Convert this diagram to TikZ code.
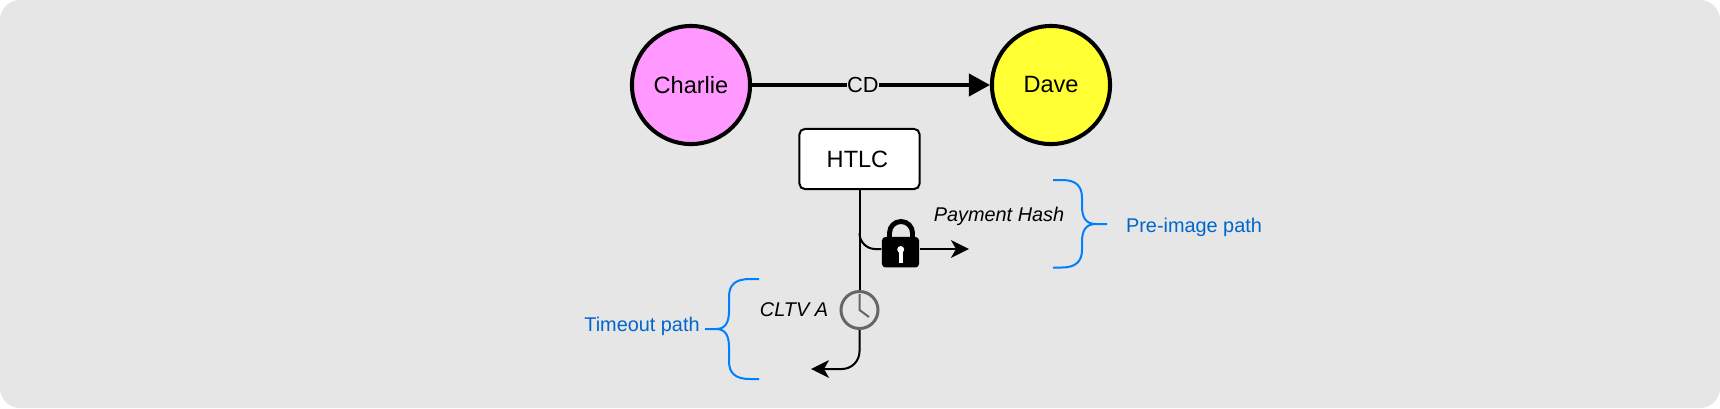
\documentclass[tikz,border=0pt]{standalone}
\usepackage{fontspec}
\setmainfont{Liberation Sans}
\usetikzlibrary{arrows.meta,positioning}
\definecolor{panelgrey}{HTML}{E6E6E6}
\definecolor{bracketblue}{HTML}{007FFF}
\definecolor{pathblue}{HTML}{0066CC}
\definecolor{clockgrey}{HTML}{666666}
\definecolor{charliepink}{HTML}{FF99FF}
\definecolor{daveyellow}{HTML}{FFFF33}
\tikzset{
	peer/.style={circle, draw, line width=1.15pt, minimum size=1.18cm, inner sep=0pt, font=\fontsize{6.7}{8}\selectfont},
	wire/.style={line width=0.57pt, -{Stealth[length=5.1pt, width=5pt, inset=1.4pt]}},
	plainwire/.style={line width=0.57pt},
	condition/.style={anchor=base, inner sep=0pt, font=\fontsize{5.65}{7}\selectfont\itshape},
	pathlabel/.style={anchor=base, inner sep=0pt, text=pathblue, font=\fontsize{5.65}{7}\selectfont},
	bracket/.style={line width=0.57pt, draw=bracketblue}
}

\begin{document}
\begin{tikzpicture}[x=0.01cm, y=-0.01cm]
	% Background panel
	\useasboundingbox (0,0) rectangle (1720,408);
	\fill[white] (0,0) rectangle (1720,408);
	\fill[panelgrey, rounded corners=0.2cm] (0,0) rectangle (1720,408);

	% Peers and the channel
	\node[peer, fill=charliepink] (charlie) at (691,85) {Charlie};
	\node[peer, fill=daveyellow] (dave) at (1051,85) {Dave};
	\draw[line width=1.1pt, -{Triangle[length=6pt, width=6.3pt]}] (charlie) -- (dave)
		node[pos=0.466, fill=panelgrey, inner sep=0pt, font=\fontsize{6.2}{7}\selectfont] (cd) {CD};

	% HTLC box
	\node[draw, fill=white, line width=0.57pt, rounded corners=1.5pt, minimum width=1.2cm, minimum height=0.6cm, font=\fontsize{6.7}{8}\selectfont] (htlc) at (859.5,159) {\hspace*{-0.04cm}HTLC};

	% Clock on the timeout path
	\node[circle, draw=clockgrey, line width=0.85pt, minimum size=0.37cm, inner sep=0pt] (clock) at (859.5,310) {};
	\draw[clockgrey, line width=0.57pt] (859.5,294) -- (clock.center) -- (869,317);
	\draw[plainwire] (htlc.south) -- (clock.north);
	\coordinate (timeoutend) at (811,369);
	\draw[wire, rounded corners=5pt] (clock.south) |- (timeoutend);

	% Lock on the pre-image path
	\node[fill=black, rounded corners=1pt, minimum width=0.37cm, minimum height=0.305cm, inner sep=0pt] (lock) at (900.5,252.2) {};
	\draw[line width=1.4pt] (889.5,240) -- (889.5,233) arc[start angle=180, end angle=0, radius=0.115cm] -- (912.5,240);
	\fill[white] (900.7,249.5) circle[radius=0.035cm];
	\fill[white] (899,250) rectangle (902.5,262.7);
	\coordinate (lockbranch) at (859.5,233);
	\coordinate (preimageend) at (969,249);
	\draw[plainwire, rounded corners=4.5pt] (lockbranch) |- (lock.west |- preimageend);
	\draw[wire] (lock.east |- preimageend) -- (preimageend);

	% Conditions
	\node[condition] (hash) at (999,221.7) {Payment Hash};
	\node[condition] (cltv) at (794,316) {CLTV A};

	% Right bracket
	\draw[bracket] (1053,180) -- (1062,180) .. controls (1076,180) and (1082,186) .. (1082,198) -- (1082,206) .. controls (1082,218) and (1086,224) .. (1096,224) -- (1107,224);
	\draw[bracket] (1053,267.5) -- (1062,267.5) .. controls (1076,267.5) and (1082,261) .. (1082,250) -- (1082,242) .. controls (1082,230) and (1086,224) .. (1096,224);
	\node[pathlabel] (preimage) at (1194,232) {Pre-image path};

	% Left bracket
	\draw[bracket] (759,279) -- (750,279) .. controls (735,279) and (729,285) .. (729,297) -- (729,311) .. controls (729,323) and (725,329) .. (716,329) -- (705,329);
	\draw[bracket] (759,379) -- (750,379) .. controls (735,379) and (729,373) .. (729,361) -- (729,347) .. controls (729,335) and (725,329) .. (716,329);
	\node[pathlabel] (timeout) at (642,331.7) {Timeout path};
\end{tikzpicture}
\end{document}
